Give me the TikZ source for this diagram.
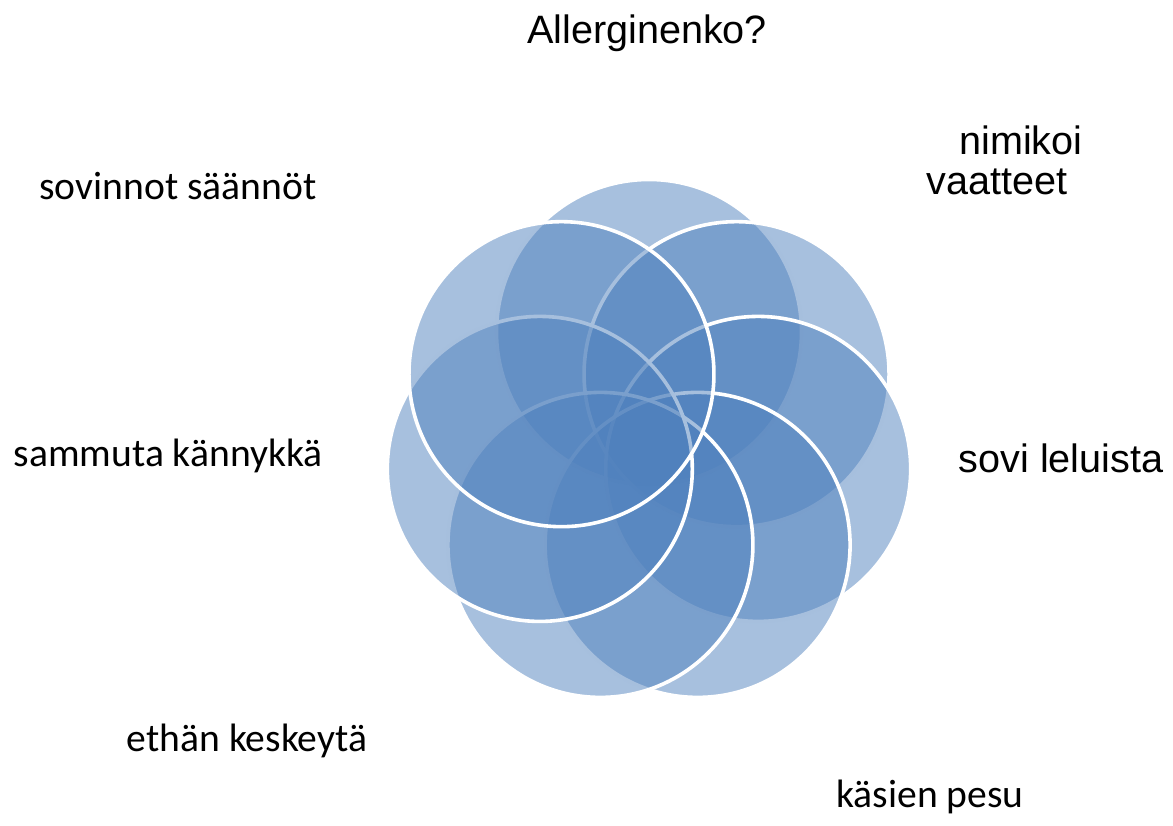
\documentclass[tikz,border=0pt]{standalone}
\usepackage{fontspec}
\setmainfont{Liberation Sans}
\newfontfamily\calfont{Carlito}
\usetikzlibrary{positioning}
\definecolor{accentblue}{HTML}{4F81BD}

\begin{document}
\begin{tikzpicture}[x=0.5pt, y=0.5pt,
    petal/.style={fill=accentblue, fill opacity=0.5, draw=white, line width=1.8pt},
    lab/.style={inner sep=0pt, anchor=base, font=\fontsize{19.8}{20}\selectfont},
    callab/.style={lab, font=\fontsize{19.8}{20}\selectfont\calfont}]
        \useasboundingbox (0,0) rectangle (1173,825);
        \coordinate (C) at (649,381);

        % Petals, clockwise from the top
        \foreach \k in {0,1,2,3,4,5,6} {
            \draw[petal] (C) ++(90-\k*360/7:112) circle (152.5);
        }

        % Labels
        \node[lab] (allerg) at (647,781) {Allerginenko?};
        \node[lab] (nimikoi) at (1021,670) {nimikoi};
        \node[lab] (vaatteet) at (997,630) {vaatteet};
        \node[lab] (lelut) at (1061,352) {sovi leluista};
        \node[callab] (kasien) at (930,18) {käsien pesu};
        \node[callab] (ethan) at (247,73) {ethän keskeytä};
        \node[callab] (sammuta) at (168,358) {sammuta kännykkä};
        \node[callab] (sovinnot) at (178,625) {sovinnot säännöt};
    \end{tikzpicture}
\end{document}
